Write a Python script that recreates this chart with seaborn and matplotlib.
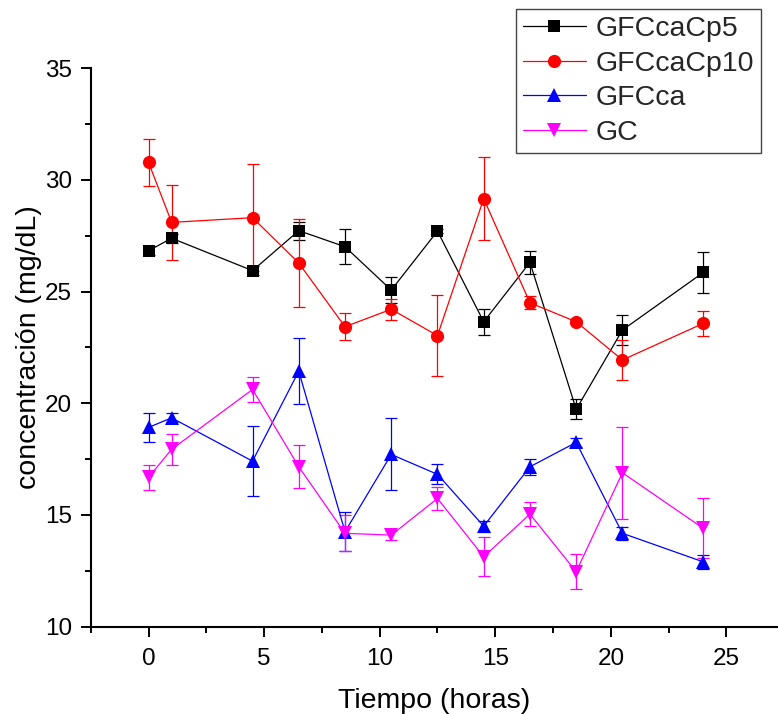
import matplotlib
matplotlib.use("Agg")
import matplotlib.pyplot as plt
from matplotlib.ticker import MultipleLocator
import numpy as np
import pandas as pd
import seaborn as sns

# ---- data ----
tiempo = [0, 1, 4.5, 6.5, 8.5, 10.5, 12.5, 14.5, 16.5, 18.5, 20.5, 24]
series_names = ["GFCcaCp5", "GFCcaCp10", "GFCca", "GC"]
gfccacp5 = [26.83, 27.39, 25.94, 27.73, 27.01, 25.07, 27.71, 23.65, 26.31, 19.73, 23.28, 25.86]
gfccacp5_err = [0.2, 0.2, 0.2, 0.4, 0.78, 0.6, 0.1, 0.58, 0.52, 0.45, 0.67, 0.9]
gfccacp10 = [30.79, 28.10, 28.31, 26.28, 23.43, 24.21, 23.03, 29.16, 24.50, 23.65, 21.94, 23.58]
gfccacp10_err = [1.06, 1.69, 2.40, 1.98, 0.60, 0.48, 1.82, 1.87, 0.30, 0.10, 0.90, 0.57]
gfcca = [18.92, 19.35, 17.41, 21.44, 14.25, 17.71, 16.82, 14.50, 17.16, 18.25, 14.18, 12.90]
gfcca_err = [0.66, 0.20, 1.58, 1.48, 0.87, 1.61, 0.45, 0.25, 0.35, 0.20, 0.30, 0.30]
gc = [16.68, 17.94, 20.62, 17.16, 14.18, 14.10, 15.74, 13.13, 15.04, 12.46, 16.89, 14.40]
gc_err = [0.54, 0.69, 0.56, 0.97, 0.80, 0.20, 0.50, 0.87, 0.55, 0.79, 2.06, 1.34]

values = [gfccacp5, gfccacp10, gfcca, gc]
errors = [gfccacp5_err, gfccacp10_err, gfcca_err, gc_err]
colors = ["#000000", "#ff0000", "#0000ff", "#ff00ff"]
markers = ["s", "o", "^", "v"]
msizes = [8.5, 9.5, 10, 10]

df = pd.DataFrame({
    "t": np.tile(tiempo, len(series_names)),
    "c": np.concatenate(values),
    "err": np.concatenate(errors),
    "serie": np.repeat(series_names, len(tiempo)),
})

sns.set_theme(style="ticks")
plt.rcParams["font.family"] = ["Liberation Sans", "DejaVu Sans"]

fig = plt.figure(figsize=(7.78, 7.14), dpi=100)
ax = fig.add_axes([0.1166, 0.1223, 0.8834, 0.7821])

handles = []
for name, col, mk, ms in zip(series_names, colors, markers, msizes):
    sub = df[df["serie"] == name]
    ax.errorbar(sub["t"], sub["c"], yerr=sub["err"], fmt="none", ecolor=col,
                elinewidth=0.9, capsize=4.5, capthick=0.9, zorder=2)
    sns.lineplot(x=sub["t"].values, y=sub["c"].values, ax=ax, color=col,
                 marker=mk, markersize=ms, markeredgewidth=0, linewidth=0.9,
                 estimator=None, sort=False, zorder=3)
    handles.append(plt.Line2D([], [], color=col, marker=mk, markersize=ms,
                              markeredgewidth=0, linewidth=0.9, label=name))

ax.set_xlim(-2.5, 27.23)
ax.set_ylim(10, 35)
ax.xaxis.set_major_locator(MultipleLocator(5))
ax.xaxis.set_minor_locator(MultipleLocator(2.5))
ax.yaxis.set_major_locator(MultipleLocator(5))
ax.yaxis.set_minor_locator(MultipleLocator(2.5))
ax.set_xticks([0, 5, 10, 15, 20, 25])
ax.tick_params(axis="both", which="major", direction="out", length=7.5, width=1.4,
               labelsize=17.5, color="black", labelcolor="black")
ax.tick_params(axis="x", which="major", pad=8)
ax.tick_params(axis="y", which="major", pad=6)
ax.tick_params(axis="both", which="minor", direction="out", length=4, width=1.4, color="black")

for s in ["top", "right"]:
    ax.spines[s].set_visible(False)
for s in ["left", "bottom"]:
    ax.spines[s].set_linewidth(1.5)
    ax.spines[s].set_color("black")

ax.set_xlabel("Tiempo (horas)", fontsize=20.5, labelpad=13, color="black")
ax.set_ylabel("concentración (mg/dL)", fontsize=20.5, labelpad=2, color="black")

leg = fig.legend(handles=handles, loc="upper left",
                 bbox_to_anchor=(516 / 778, 1 - 9 / 714), bbox_transform=fig.transFigure,
                 fontsize=20.5, frameon=True, fancybox=False, framealpha=1,
                 edgecolor="#444444", handlelength=2.2, handletextpad=0.35,
                 borderpad=0.25, labelspacing=0.3, borderaxespad=0)
leg.get_frame().set_linewidth(1.0)

ax.set_facecolor("white")
fig.patch.set_facecolor("white")
fig.savefig("out.png", dpi=100)
